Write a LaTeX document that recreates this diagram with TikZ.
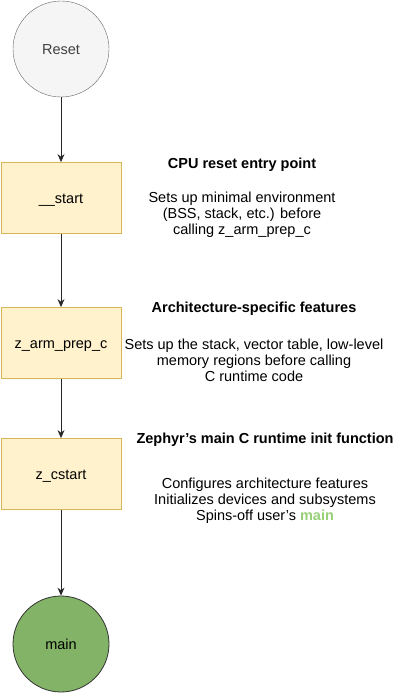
\documentclass[tikz,border=0pt]{standalone}
\usepackage{fontspec}
\setmainfont{Liberation Sans}
\usetikzlibrary{arrows.meta}
\definecolor{resetfill}{HTML}{F5F5F5}
\definecolor{resetdraw}{HTML}{666666}
\definecolor{boxfill}{HTML}{FFF2CC}
\definecolor{boxdraw}{HTML}{D6B656}
\definecolor{mainfill}{HTML}{82B366}
\definecolor{maintext}{HTML}{97D077}
\begin{document}
\begin{tikzpicture}[x=1pt,y=-1pt,
  every node/.style={font=\fontsize{14.5}{16}\selectfont, inner sep=0pt},
  roundnode/.style={circle, minimum size=96pt, draw, text height=10.4pt, text depth=0pt},
  stepbox/.style={rectangle, minimum width=120pt, minimum height=71pt, fill=boxfill, draw=boxdraw, line width=0.8pt, text height=10.4pt, text depth=0pt},
  desc/.style={align=center, text=black},
  conn/.style={-{Stealth[length=8pt,width=7pt]}, line width=0.8pt, draw=black!85}
]
\useasboundingbox (0,0) rectangle (410,693);
\node[roundnode, fill=resetfill, draw=resetdraw, text=black!75] (reset) at (61,49) {Reset};
\node[stepbox] (start) at (61,198) {\_\_start};
\node[stepbox] (prep) at (61,343) {z\_arm\_prep\_c};
\node[stepbox] (cstart) at (61,474) {z\_cstart};
\node[roundnode, fill=mainfill, draw=black!80, line width=0.8pt] (main) at (61,644) {main};

\node[desc, font=\fontsize{14.5}{16}\selectfont\bfseries] (t1) at (242,165) {CPU reset entry point};
\node[desc] (d1) at (242,215) {Sets up minimal environment\\(BSS, stack, etc.) before\\calling z\_arm\_prep\_c};
\node[desc, font=\fontsize{14.5}{16}\selectfont\bfseries] (t2) at (254,309) {Architecture-specific features};
\node[desc] (d2) at (254,360) {Sets up the stack, vector table, low-level\\memory regions before calling\\C runtime code};
\node[desc, font=\fontsize{14.5}{16}\selectfont\bfseries] (t3) at (265,440) {Zephyr’s main C runtime init function};
\node[desc] (d3) at (265,501) {Configures architecture features\\Initializes devices and subsystems\\Spins-off user's {\bfseries\color{maintext}main}};

\draw[conn] (reset) -- (start);
\draw[conn] (start) -- (prep);
\draw[conn] (prep) -- (cstart);
\draw[conn] (cstart) -- (main);
\end{tikzpicture}
\end{document}
